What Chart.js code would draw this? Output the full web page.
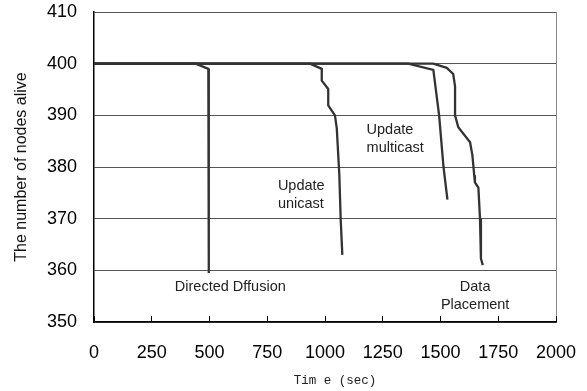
<!DOCTYPE html>
<html>
<head>
<meta charset="utf-8">
<script src="https://cdn.jsdelivr.net/npm/chart.js@4/dist/chart.umd.min.js"></script>
<style>
  body { margin: 0; background: #fff; }
  #lifetime { display: block; }
</style>
</head>
<body>
<canvas id="lifetime" width="587" height="391"></canvas>
<script>
// time (sec) / nodes alive for each scheme
const diffusionTime = [0, 440, 495, 497];
const diffusionNodes = [400, 400, 399, 359.5];

const unicastTime = [0, 935, 986, 986, 1014, 1014, 1043, 1051, 1062, 1068, 1075];
const unicastNodes = [400, 400, 399, 396.7, 395.1, 391.9, 390, 387.5, 378.5, 369.8, 363];

const multicastTime = [0, 1360, 1469, 1494, 1513, 1530];
const multicastNodes = [400, 400, 398.8, 390, 380, 373.7];

const placementTime = [0, 1469, 1527, 1555, 1563, 1563, 1577, 1628, 1638, 1646, 1649, 1664, 1671, 1675, 1683];
const placementNodes = [400, 400, 399.2, 398, 395.6, 390, 387.7, 384.8, 382.3, 378.4, 377, 376, 370, 362.3, 361];

const xTicks = [0, 250, 500, 750, 1000, 1250, 1500, 1750, 2000];
const yTicks = [350, 360, 370, 380, 390, 400, 410];

// curve labels, placed in data coordinates
const curveLabels = [
    {lines: ["Directed Dffusion"], x: 590, y: 356.8, align: "center"},
    {lines: ["Update", "unicast"], x: 796, y: 376.4, align: "left"},
    {lines: ["Update", "multicast"], x: 1180, y: 387.2, align: "left"},
    {lines: ["Data", "Placement"], x: 1650, y: 356.8, align: "center"}
];

function points(xs, ys) {
    return xs.map((x, i) => ({x: x, y: ys[i]}));
}

function series(xs, ys) {
    return {
        data: points(xs, ys),
        borderColor: "#333",
        borderWidth: 2.3,
        pointRadius: 0,
        fill: false,
        tension: 0
    };
}

const labelPlugin = {
    id: "curveLabels",
    afterDraw(chart) {
        const ctx = chart.ctx;
        const xs = chart.scales.x, ys = chart.scales.y;
        ctx.save();
        ctx.fillStyle = "#222";
        ctx.font = "14.5px 'Liberation Sans', Arial, sans-serif";
        ctx.textBaseline = "middle";
        curveLabels.forEach(l => {
            ctx.textAlign = l.align;
            const px = xs.getPixelForValue(l.x);
            const py = ys.getPixelForValue(l.y);
            l.lines.forEach((t, i) => ctx.fillText(t, px, py + i * 18));
        });
        // axis title under the time axis
        ctx.font = "12.5px 'Liberation Mono', 'Courier New', monospace";
        ctx.textAlign = "center";
        ctx.fillText("Tim e (sec)", xs.getPixelForValue(1043), 381);
        ctx.restore();
    }
};

new Chart(document.getElementById("lifetime"), {
    type: "line",
    data: {
        datasets: [
            series(diffusionTime, diffusionNodes),
            series(unicastTime, unicastNodes),
            series(multicastTime, multicastNodes),
            series(placementTime, placementNodes)
        ]
    },
    options: {
        responsive: false,
        animation: false,
        devicePixelRatio: 1,
        layout: {padding: {top: 12, right: 31, left: 0, bottom: 0}},
        plugins: {legend: {display: false}, tooltip: {enabled: false}},
        scales: {
            x: {
                type: "linear",
                min: 0,
                max: 2000,
                afterBuildTicks: s => { s.ticks = xTicks.map(v => ({value: v})); },
                afterFit: s => {
                    s.height = 69;
                    s.paddingLeft = 0;
                    s.paddingRight = 0;
                },
                ticks: {
                    color: "#000",
                    padding: 26,
                    maxRotation: 0,
                    callback: v => String(v),
                    font: {family: "'Liberation Sans', Arial, sans-serif", size: 18}
                },
                grid: {
                    color: c => c.tick && c.tick.value === 2000 ? "#888" : "transparent",
                    tickColor: "#000",
                    tickLength: -6,
                    lineWidth: 1
                },
                border: {color: "#000", width: 1.5}
            },
            y: {
                min: 350,
                max: 410,
                afterBuildTicks: s => { s.ticks = yTicks.map(v => ({value: v})); },
                afterFit: s => {
                    s.width = 94;
                    s.paddingTop = 0;
                    s.paddingBottom = 0;
                },
                ticks: {
                    color: "#000",
                    padding: 17,
                    font: {family: "'Liberation Sans', Arial, sans-serif", size: 18}
                },
                grid: {color: "#555", lineWidth: 1, drawTicks: false},
                border: {color: "#000", width: 1.5},
                title: {
                    display: true,
                    text: "The number of nodes alive",
                    color: "#111",
                    padding: {top: 12},
                    font: {family: "'Liberation Sans', Arial, sans-serif", size: 16}
                }
            }
        }
    },
    plugins: [labelPlugin]
});
</script>
</body>
</html>
